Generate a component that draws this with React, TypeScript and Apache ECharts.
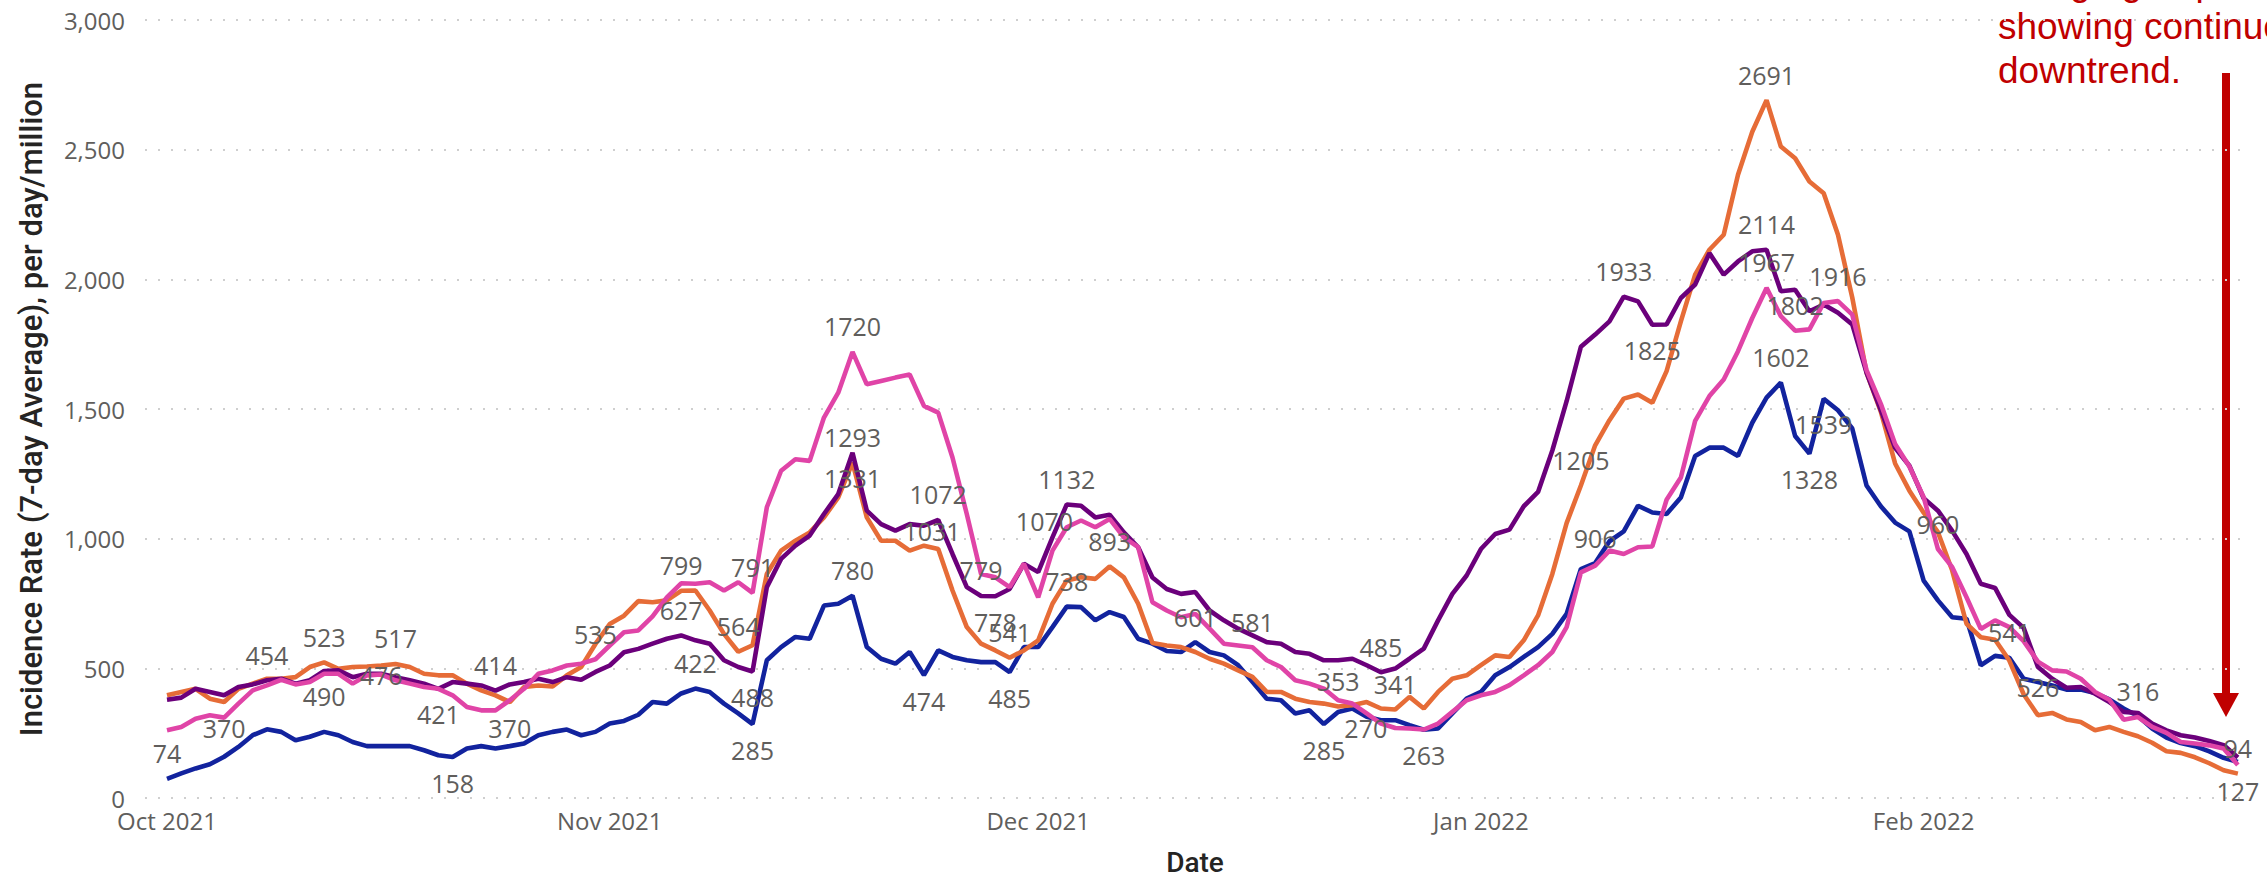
import React, { useEffect, useRef } from "react";
import * as echarts from "echarts";

// x positions are day indices from 1 Oct 2021 (day 0) to 23 Feb 2022 (day 145)
const MONTH_TICK_DAYS = [0, 31, 61, 92, 123];
const MONTH_TICK_LABELS = ["Oct 2021", "Nov 2021", "Dec 2021", "Jan 2022", "Feb 2022"];
const Y_MAX = 3000;
const Y_STEP = 500;

const BLUE = [
  74, 95, 114, 130, 159, 197, 242, 265, 255, 223, 236, 255, 242, 216, 200, 200, 200, 200, 184, 165,
  158, 191, 200, 191, 200, 210, 242, 255, 264, 242, 255, 287, 297, 321, 370, 364, 403, 422, 409, 364,
  326, 285, 531, 582, 621, 614, 742, 749, 780, 582, 537, 518, 563, 474, 569, 544, 531, 524, 524, 485,
  582, 582, 659, 738, 736, 685, 717, 698, 614, 595, 567, 563, 601, 563, 550, 512, 448, 383, 377, 326,
  338, 285, 332, 345, 313, 300, 300, 281, 263, 268, 326, 383, 409, 473, 505, 544, 582, 633, 710, 883,
  906, 990, 1028, 1127, 1101, 1095, 1159, 1319, 1351, 1351, 1319, 1447, 1544, 1602, 1396, 1328, 1539, 1495, 1425, 1205,
  1125, 1062, 1028, 838, 762, 697, 691, 512, 548, 541, 460, 447, 434, 418, 418, 405, 380, 345, 316, 268,
  233, 212, 200, 180, 155, 139,
];

const PURPLE = [
  379, 387, 421, 409, 396, 428, 438, 454, 460, 441, 454, 490, 492, 466, 479, 479, 466, 454, 441, 421,
  447, 441, 434, 414, 438, 447, 460, 447, 466, 456, 486, 511, 562, 575, 595, 614, 627, 608, 595, 531,
  505, 488, 813, 922, 973, 1012, 1095, 1172, 1331, 1108, 1056, 1031, 1056, 1050, 1072, 941, 813, 779, 778, 806,
  903, 871, 1005, 1132, 1127, 1082, 1092, 1024, 967, 850, 806, 787, 794, 723, 685, 653, 627, 601, 595, 563,
  556, 531, 531, 537, 512, 485, 499, 537, 576, 685, 787, 858, 960, 1018, 1035, 1125, 1180, 1340, 1530, 1740,
  1787, 1838, 1933, 1915, 1825, 1826, 1928, 1980, 2101, 2018, 2069, 2108, 2114, 1954, 1960, 1877, 1903, 1871, 1826, 1640,
  1495, 1350, 1281, 1156, 1108, 1030, 941, 826, 810, 706, 656, 505, 460, 425, 428, 402, 370, 332, 328, 287,
  261, 242, 233, 220, 204, 156,
];

const ORANGE = [
  396, 409, 421, 383, 370, 421, 441, 460, 460, 466, 505, 523, 498, 505, 507, 511, 517, 505, 479, 473,
  473, 441, 415, 396, 370, 428, 434, 430, 473, 505, 594, 671, 703, 759, 755, 762, 799, 800, 723, 633,
  564, 589, 864, 954, 992, 1024, 1082, 1159, 1293, 1082, 992, 992, 954, 973, 960, 800, 659, 595, 569, 541,
  569, 608, 749, 839, 851, 845, 893, 851, 749, 598, 588, 582, 563, 537, 518, 492, 467, 409, 409, 383,
  370, 364, 353, 358, 370, 345, 341, 390, 345, 409, 460, 473, 512, 550, 544, 608, 704, 864, 1060, 1205,
  1360, 1457, 1540, 1556, 1524, 1646, 1838, 2018, 2114, 2172, 2403, 2569, 2691, 2512, 2467, 2377, 2332, 2172, 1930, 1640,
  1490, 1290, 1185, 1100, 1025, 877, 672, 620, 610, 530, 400, 319, 328, 303, 293, 261, 274, 255, 238, 213,
  180, 174, 157, 134, 107, 94,
];

const PINK = [
  261, 274, 306, 319, 310, 364, 415, 434, 456, 438, 447, 479, 479, 441, 473, 476, 454, 441, 428, 421,
  396, 351, 338, 338, 377, 421, 479, 492, 511, 518, 535, 588, 639, 646, 700, 774, 828, 826, 832, 800,
  832, 791, 1121, 1262, 1306, 1300, 1467, 1563, 1720, 1595, 1608, 1621, 1633, 1512, 1486, 1313, 1095, 864, 851, 813,
  903, 774, 954, 1044, 1070, 1044, 1076, 1005, 967, 755, 723, 697, 710, 653, 595, 588, 581, 531, 505, 454,
  441, 422, 377, 364, 326, 287, 270, 268, 264, 287, 332, 377, 396, 409, 435, 473, 512, 563, 659, 870,
  896, 954, 941, 967, 970, 1150, 1236, 1454, 1550, 1614, 1723, 1851, 1967, 1858, 1802, 1807, 1909, 1916, 1864, 1650,
  1520, 1365, 1278, 1160, 960, 890, 774, 652, 685, 659, 605, 526, 492, 488, 460, 409, 379, 302, 312, 274,
  251, 216, 210, 203, 191, 127,
];

// which points carry a data label, and where it sits
const BLUE_LABELS: [number, string][] = [
  [0, "top"], [20, "bottom"], [37, "top"], [41, "bottom"], [48, "top"], [53, "bottom"], [59, "bottom"],
  [63, "top"], [72, "top"], [81, "bottom"], [88, "bottom"], [100, "top"], [113, "top"], [115, "bottom"],
  [116, "bottom"], [129, "top"], [138, "top"],
];
const PURPLE_LABELS: [number, string][] = [
  [7, "top"], [11, "bottom"], [23, "top"], [36, "top"], [41, "bottom"], [48, "bottom"], [51, "right"],
  [54, "top"], [57, "top"], [58, "bottom"], [63, "top"], [85, "top"], [102, "top"], [104, "bottom"], [112, "top"],
];
const ORANGE_LABELS: [number, string][] = [
  [4, "bottom"], [11, "top"], [16, "top"], [24, "bottom"], [36, "top"], [40, "top"], [48, "top"], [59, "top"],
  [66, "top"], [82, "top"], [86, "top"], [99, "top"], [112, "top"], [145, "top"],
];
const PINK_LABELS: [number, string][] = [
  [15, "inside"], [19, "bottom"], [30, "top"], [41, "top"], [48, "top"], [64, "left"], [76, "top"],
  [86, "left"], [112, "top"], [114, "top"], [117, "top"], [124, "top"], [131, "bottom"], [145, "bottom"],
];

const SERIES = [
  { name: "Blue group", values: BLUE, labels: BLUE_LABELS, color: "#12239E" },
  { name: "Orange group", values: ORANGE, labels: ORANGE_LABELS, color: "#E66C37" },
  { name: "Purple group", values: PURPLE, labels: PURPLE_LABELS, color: "#6B007B" },
  { name: "Pink group", values: PINK, labels: PINK_LABELS, color: "#E044A7" },
];

const LABEL_FONT = "'Segoe UI', 'Open Sans', 'Noto Sans', sans-serif";

export default function App() {
  const ref = useRef<HTMLDivElement>(null);

  useEffect(() => {
    document.body.style.margin = "0";
    if (!ref.current) return;
    const chart = echarts.init(ref.current, undefined, { renderer: "svg" });

    const series = SERIES.map((s) => {
      const labelMap = new Map(s.labels);
      return {
        name: s.name,
        type: "line",
        symbol: "circle",
        symbolSize: 0,
        showSymbol: true,
        lineStyle: { width: 4.6, color: s.color },
        itemStyle: { color: s.color },
        emphasis: { disabled: true },
        data: s.values.map((v, i) => {
          const pos = labelMap.get(i);
          if (pos) {
            return {
              value: [i, v],
              label: {
                show: true,
                position: pos,
                distance: pos === "left" || pos === "right" ? 8 : 13,
                fontSize: 25,
                color: "#605E5C",
                fontFamily: LABEL_FONT,
                formatter: (p: any) => String(p.value[1]),
              },
            };
          }
          return [i, v];
        }),
      };
    });

    chart.setOption({
      animation: false,
      backgroundColor: "#ffffff",
      grid: { left: 145, right: 22, top: 20, bottom: 80, containLabel: false, outerBoundsMode: "none" },
      xAxis: {
        type: "value",
        min: -1.54,
        max: 145.5,
        name: "Date",
        nameLocation: "middle",
        nameGap: 50,
        nameTextStyle: { fontSize: 28, color: "#252423", fontFamily: "Roboto, sans-serif", fontWeight: 500 },
        axisLine: { show: false },
        axisTick: { show: false },
        splitLine: { show: false },
        axisLabel: {
          customValues: MONTH_TICK_DAYS,
          formatter: (v: number) => {
            const k = MONTH_TICK_DAYS.indexOf(Math.round(v));
            return k >= 0 ? MONTH_TICK_LABELS[k] : "";
          },
          fontSize: 24,
          color: "#605E5C",
          fontFamily: LABEL_FONT,
          margin: 10,
          hideOverlap: false,
        },
      },
      yAxis: {
        type: "value",
        min: 0,
        max: Y_MAX,
        interval: Y_STEP,
        name: "Incidence Rate (7-day Average), per day/million",
        nameLocation: "middle",
        nameGap: 98,
        nameRotate: 90,
        nameTextStyle: { fontSize: 31, color: "#252423", fontFamily: "Roboto, sans-serif", fontWeight: 500 },
        axisLine: { show: false },
        axisTick: { show: false },
        axisLabel: {
          fontSize: 24,
          color: "#605E5C",
          fontFamily: LABEL_FONT,
          margin: 20,
          formatter: (v: number) => v.toLocaleString("en-US"),
        },
        splitLine: { show: true, lineStyle: { color: "#cfcfcf", width: 2, type: [2, 11] } },
      },
      series,
      graphic: [
        {
          type: "text",
          x: 1998,
          y: -40,
          silent: true,
          style: {
            text: "All age groups\nshowing continued\ndowntrend.",
            font: "37px 'Liberation Sans', Arial, sans-serif",
            fill: "#C00000",
            lineHeight: 44,
          },
        },
        {
          type: "rect",
          silent: true,
          shape: { x: 2222, y: 73, width: 8, height: 623 },
          style: { fill: "#C00000" },
        },
        {
          type: "polygon",
          silent: true,
          shape: { points: [[2213, 693], [2239, 693], [2226, 717]] },
          style: { fill: "#C00000" },
        },
      ],
    });

    return () => chart.dispose();
  }, []);

  return <div ref={ref} style={{ width: 2267, height: 878 }} />;
}
